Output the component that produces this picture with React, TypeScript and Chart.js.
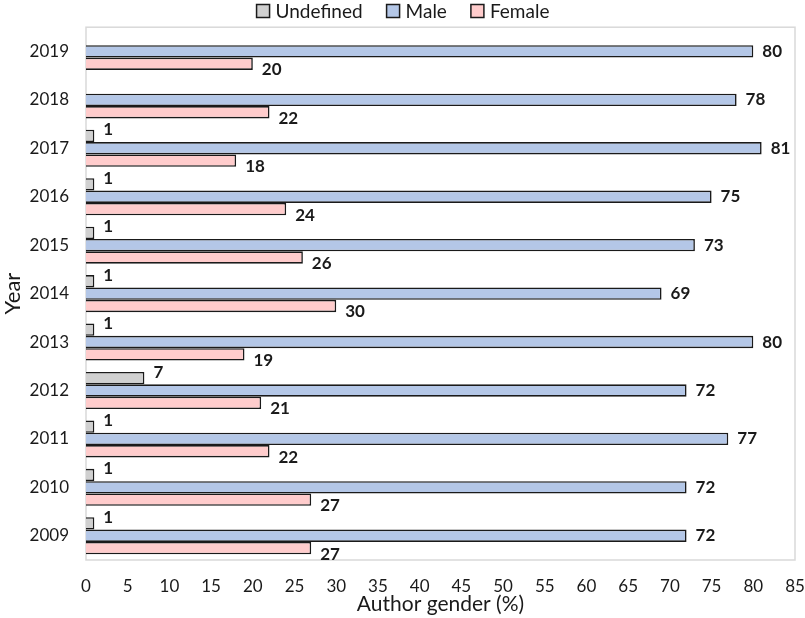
import React, { useEffect, useRef } from "react";
import { Chart, registerables } from "chart.js";

Chart.register(...registerables);

const years = ["2019", "2018", "2017", "2016", "2015", "2014", "2013", "2012", "2011", "2010", "2009"];
const undefinedShare = [null, null, 1, 1, 1, 1, 1, 7, 1, 1, 1];
const maleShare = [80, 78, 81, 75, 73, 69, 80, 72, 77, 72, 72];
const femaleShare = [20, 22, 18, 24, 26, 30, 19, 21, 22, 27, 27];
const seriesNames = ["Undefined", "Male", "Female"];
const seriesColors = ["#d0d0d0", "#b4c7e7", "#ffcccc"];
const xMax = 85;
const xStep = 5;

// Excel nudges the labels of the outer bars up/down so they don't collide
const labelShift = [-6, 0, 6];

const FONT = "Lato";
const INK = "#1a1a1a";

const plotFrame = {
  id: "plotFrame",
  beforeDatasetsDraw(chart: any) {
    const { ctx, chartArea: a } = chart;
    ctx.save();
    ctx.strokeStyle = "#d9d9d9";
    ctx.lineWidth = 1.5;
    ctx.strokeRect(a.left, a.top, a.right - a.left, a.bottom - a.top);
    ctx.restore();
  },
};

const valueLabels = {
  id: "valueLabels",
  afterDatasetsDraw(chart: any) {
    const ctx = chart.ctx;
    ctx.save();
    ctx.font = `bold 17px ${FONT}`;
    ctx.fillStyle = INK;
    ctx.textAlign = "left";
    ctx.textBaseline = "middle";
    chart.data.datasets.forEach((ds: any, di: number) => {
      const meta = chart.getDatasetMeta(di);
      meta.data.forEach((bar: any, i: number) => {
        const v = ds.data[i];
        if (v == null) return;
        ctx.fillText(String(v), bar.x + 9, bar.y + labelShift[di]);
      });
    });
    ctx.restore();
  },
};

const topLegend = {
  id: "topLegend",
  afterDraw(chart: any) {
    const ctx = chart.ctx;
    const box = 13;
    const gapText = 6;
    const gapItem = 24;
    ctx.save();
    ctx.font = `19px ${FONT}`;
    ctx.textBaseline = "middle";
    ctx.textAlign = "left";
    const widths = seriesNames.map((n) => ctx.measureText(n).width);
    const total =
      widths.reduce((s, w) => s + box + gapText + w, 0) + gapItem * (seriesNames.length - 1);
    let x = 403 - total / 2;
    const cy = 11;
    seriesNames.forEach((name, i) => {
      ctx.fillStyle = seriesColors[i];
      ctx.fillRect(x, cy - box / 2, box, box);
      ctx.strokeStyle = INK;
      ctx.lineWidth = 1.5;
      ctx.strokeRect(x, cy - box / 2, box, box);
      ctx.fillStyle = INK;
      ctx.fillText(name, x + box + gapText, cy + 1);
      x += box + gapText + widths[i] + gapItem;
    });
    ctx.restore();
  },
};

const App: React.FC = () => {
  const canvasRef = useRef<HTMLCanvasElement | null>(null);
  const chartRef = useRef<Chart | null>(null);

  useEffect(() => {
    const ctx = canvasRef.current?.getContext("2d");
    if (!ctx) return;
    chartRef.current?.destroy();

    const data = [undefinedShare, maleShare, femaleShare];

    chartRef.current = new Chart(ctx, {
      type: "bar",
      data: {
        labels: years,
        datasets: seriesNames.map((name, i) => ({
          label: name,
          data: data[i] as any,
          backgroundColor: seriesColors[i],
          borderColor: INK,
          borderWidth: 1.6,
          categoryPercentage: 0.765,
          barPercentage: 1,
        })),
      },
      options: {
        indexAxis: "y",
        animation: false,
        responsive: true,
        maintainAspectRatio: false,
        layout: { padding: { top: 25, right: 10, bottom: 0, left: 0 } },
        font: { family: FONT },
        plugins: {
          legend: { display: false },
          tooltip: { enabled: false },
        },
        scales: {
          x: {
            min: 0,
            max: xMax,
            grid: { display: false, drawTicks: false },
            border: { display: false },
            ticks: {
              stepSize: xStep,
              padding: 16,
              color: INK,
              font: { family: FONT, size: 17 },
            },
            title: {
              display: true,
              text: "Author gender (%)",
              color: INK,
              padding: { top: 0, bottom: 1 },
              font: { family: FONT, size: 21 },
            },
            afterFit(scale: any) {
              scale.height = 58;
              scale.paddingRight = 0;
              scale.paddingLeft = 0;
            },
          },
          y: {
            grid: { display: false, drawTicks: false },
            border: { display: false },
            ticks: {
              padding: 17,
              color: INK,
              font: { family: FONT, size: 17 },
            },
            title: {
              display: true,
              text: "Year",
              color: INK,
              padding: 0,
              font: { family: FONT, size: 22 },
            },
            afterFit(scale: any) {
              scale.width = 86;
            },
          },
        },
      } as any,
      plugins: [plotFrame, valueLabels, topLegend],
    });

    return () => {
      chartRef.current?.destroy();
      chartRef.current = null;
    };
  }, []);

  return (
    <div style={{ position: "absolute", left: 0, top: 0, width: 805, height: 618, background: "#fff" }}>
      <canvas ref={canvasRef}></canvas>
    </div>
  );
};

export default App;
